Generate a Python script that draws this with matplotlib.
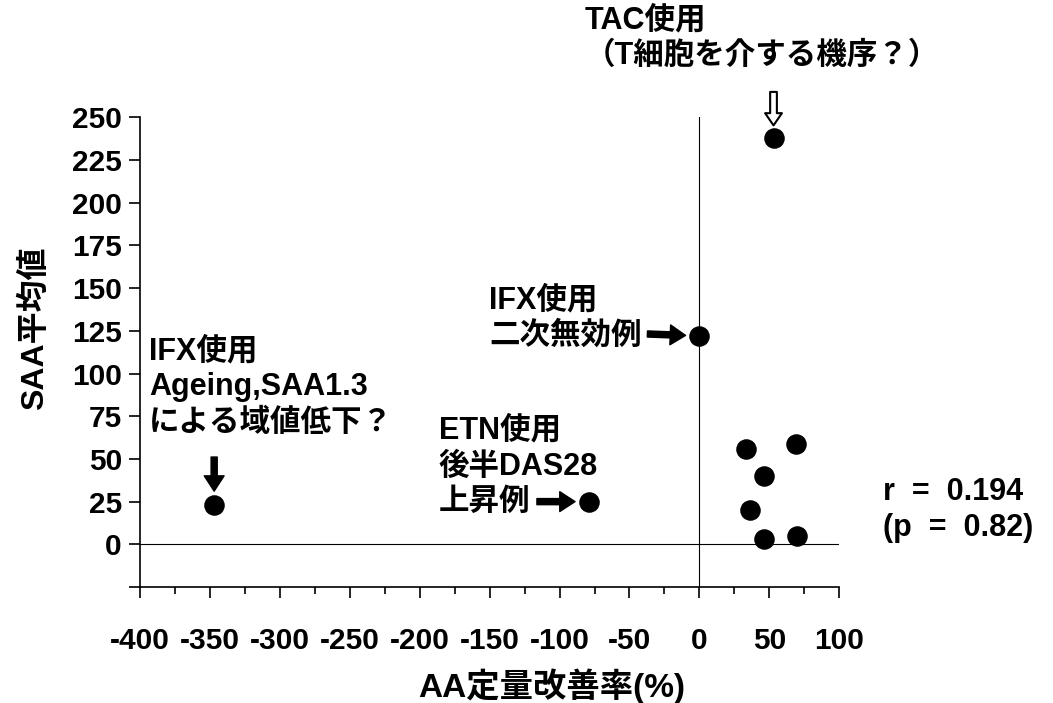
import matplotlib
matplotlib.use("Agg")
import matplotlib.pyplot as plt
from matplotlib.ticker import MultipleLocator

plt.rcParams['font.family'] = ['Liberation Sans', 'Noto Sans CJK JP', 'DejaVu Sans']
plt.rcParams['font.weight'] = 'bold'
plt.rcParams['axes.unicode_minus'] = False

# AA定量改善率(%) と SAA平均値
improve = [-347, -79, 0, 53, 33, 69, 46, 36, 46, 70]
saa = [23, 25, 122, 238, 56, 59, 40, 20, 3, 5]

note_ifx_left = "IFX使用\nAgeing,SAA1.3\nによる域値低下？"
note_etn = "ETN使用\n後半DAS28\n上昇例"
note_ifx_mid = "IFX使用\n二次無効例"
note_tac = "TAC使用\n（T細胞を介する機序？）"
stats_text = "r  =  0.194\n(p  =  0.82)"

fig = plt.figure(figsize=(10.53, 7.03), dpi=100)
ax = fig.add_axes([0.133, 0.165, 0.664, 0.668])

ax.scatter(improve, saa, s=190, c='black', zorder=3)
ax.axhline(0, color='black', lw=0.8)
ax.axvline(0, color='black', lw=0.8)

ax.set_xlim(-400, 100)
ax.set_ylim(-25, 250)
ax.xaxis.set_major_locator(MultipleLocator(50))
ax.xaxis.set_minor_locator(MultipleLocator(25))
ax.set_yticks(range(-25, 251, 25))
ax.set_yticklabels([''] + [str(v) for v in range(0, 251, 25)])
for s in ['top', 'right']:
    ax.spines[s].set_visible(False)
for s in ['left', 'bottom']:
    ax.spines[s].set_linewidth(1.2)
ax.tick_params(axis='x', which='major', length=8, width=1.2, labelsize=21.5, pad=21)
ax.tick_params(axis='x', which='minor', length=5, width=1.2)
ax.tick_params(axis='y', length=8, width=1.2, labelsize=21.5, pad=5)

fs = 22
ls = 1.25
# テキスト注記（点からのピクセルオフセット）
ax.annotate(note_ifx_left, (improve[0], saa[0]), xytext=(-65, 118),
            textcoords='offset pixels', ha='left', va='center', fontsize=fs, linespacing=ls)
ax.annotate(note_etn, (improve[1], saa[1]), xytext=(-150, 35),
            textcoords='offset pixels', ha='left', va='center', fontsize=fs, linespacing=ls)
ax.annotate(note_ifx_mid, (improve[2], saa[2]), xytext=(-210, 18),
            textcoords='offset pixels', ha='left', va='center', fontsize=fs, linespacing=ls)
ax.annotate(note_tac, (improve[3], saa[3]), xytext=(-189, 100),
            textcoords='offset pixels', ha='left', va='center', fontsize=fs, linespacing=ls)

solid = dict(arrowstyle="simple,head_length=0.5,head_width=0.65,tail_width=0.2",
             fc='black', ec='black', mutation_scale=22, shrinkA=0, shrinkB=10)
ax.annotate('', (improve[0], saa[0]), xytext=(0, 48), textcoords='offset pixels', arrowprops=solid)
ax.annotate('', (improve[1], saa[1]), xytext=(-52, 0), textcoords='offset pixels', arrowprops=solid)
ax.annotate('', (improve[2], saa[2]), xytext=(-52, 2), textcoords='offset pixels', arrowprops=solid)
hollow = dict(arrowstyle="simple,head_length=0.4,head_width=0.55,tail_width=0.22",
              fc='white', ec='black', lw=1.5, mutation_scale=22, shrinkA=0, shrinkB=9)
ax.annotate('', (improve[3], saa[3]), xytext=(0, 46), textcoords='offset pixels', arrowprops=hollow)

fig.text(883 / 1053, 1 - 510 / 703, stats_text, ha='left', va='center', fontsize=fs, linespacing=ls)
fig.text(35 / 1053, 1 - 328 / 703, "SAA平均値", rotation=90, ha='center', va='center', fontsize=23)
fig.text(552 / 1053, 1 - 686 / 703, "AA定量改善率(%)", ha='center', va='center', fontsize=24)

fig.savefig("out.png", dpi=100)
